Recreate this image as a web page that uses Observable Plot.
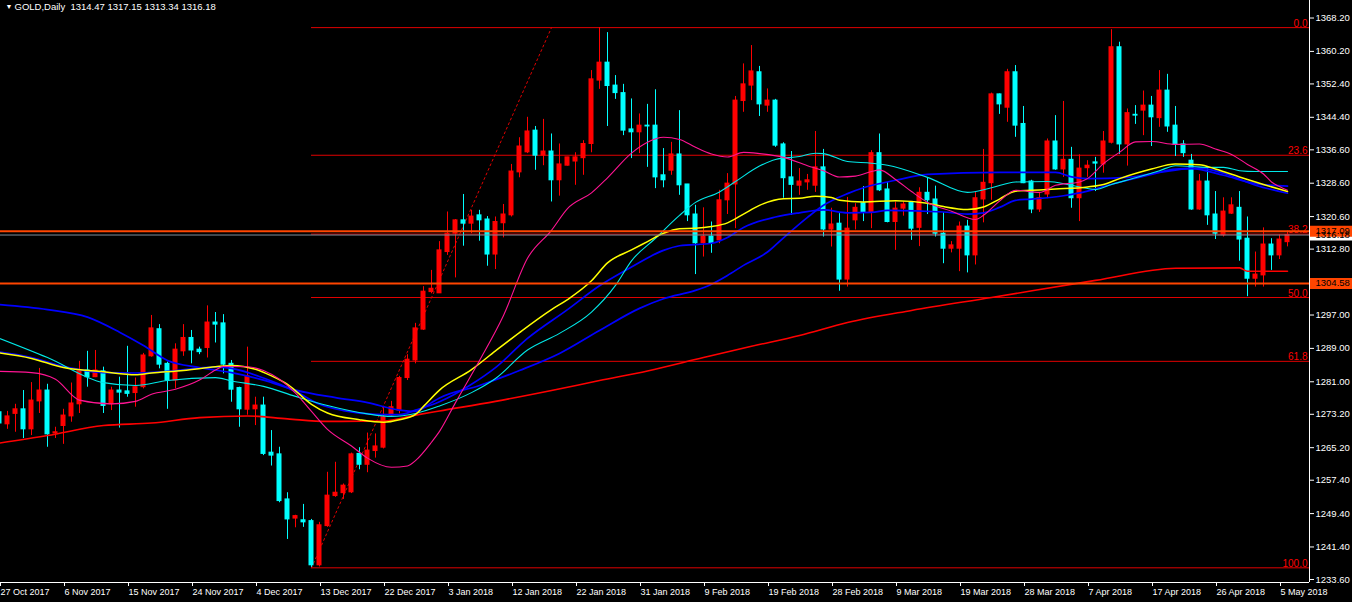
<!DOCTYPE html>
<html><head><meta charset="utf-8">
<script src="https://cdn.jsdelivr.net/npm/d3@7"></script>
<script src="https://cdn.jsdelivr.net/npm/@observablehq/plot@0.6"></script>
<style>
html,body{margin:0;padding:0;background:#000;overflow:hidden;}
svg text{white-space:pre;}
</style>
</head><body><div id="chart"></div>
<script>
// ---- Daily OHLC, bar index -1 .. 160 ----
const firstBar = -1;
const opens = [
1273.7,1270.8,1273.3,1274.4,1269.6,1276.3,1278.9,1268.6,1270.4,1272.7,
1275.6,1283.7,1282.1,1283.5,1275.6,1278.9,1278.7,1278.3,1279.7,1287.1,
1293.6,1285.3,1281.3,1288.3,1291.5,1288.7,1289.1,1295.2,1295.0,1285.3,
1279.5,1274.3,1274.4,1275.3,1264.0,1263.6,1252.8,1248.2,1247.8,1247.6,
1237.0,1246.4,1253.6,1254.3,1254.5,1263.7,1261.1,1264.4,1265.2,1272.9,
1274.1,1281.9,1286.1,1293.5,1302.5,1302.2,1312.1,1316.5,1319.7,1318.9,
1320.9,1319.9,1311.5,1319.0,1320.9,1331.2,1336.0,1341.2,1335.2,1336.2,
1329.3,1332.8,1333.8,1334.6,1338.0,1353.2,1357.5,1352.0,1350.2,1341.5,
1340.8,1342.4,1342.4,1330.5,1331.6,1335.5,1328.3,1321.1,1314.2,1315.8,
1314.9,1324.5,1328.3,1348.3,1352.0,1355.2,1347.2,1348.4,1337.9,1330.0,
1328.0,1328.8,1328.0,1332.4,1317.5,1318.9,1305.5,1319.7,1323.8,1321.5,
1335.8,1327.1,1319.3,1322.5,1323.9,1317.9,1326.3,1324.7,1316.5,1312.9,
1312.9,1318.2,1311.3,1324.7,1328.6,1349.9,1346.7,1355.2,1342.8,1329.0,
1322.3,1325.9,1338.6,1331.9,1334.2,1325.0,1332.2,1333.6,1333.1,1338.3,
1361.2,1337.9,1345.0,1346.0,1347.2,1344.2,1350.8,1342.4,1337.9,1334.0,
1322.3,1329.0,1321.1,1316.1,1321.3,1322.7,1315.3,1305.7,1306.5,1313.9,
1311.3,1314.47];
const highs = [
1274.5,1273.9,1275.6,1278.9,1280.8,1284.2,1280.4,1270.1,1274.4,1280.7,
1285.9,1288.3,1288.5,1284.5,1279.7,1282.1,1289.5,1281.9,1287.8,1296.9,
1294.7,1285.7,1290.1,1294.7,1293.3,1289.3,1299.2,1297.6,1297.1,1286.1,
1279.7,1289.3,1277.3,1277.3,1269.3,1265.3,1254.4,1249.0,1251.6,1248.0,
1247.3,1259.3,1261.7,1256.5,1263.9,1265.2,1268.7,1268.5,1274.9,1276.3,
1282.3,1287.5,1295.0,1303.8,1307.7,1314.6,1321.7,1319.9,1325.9,1322.1,
1322.1,1320.6,1320.5,1323.5,1333.1,1339.5,1344.4,1342.2,1343.9,1340.4,
1338.0,1334.8,1335.9,1338.8,1355.6,1365.9,1364.7,1354.4,1352.3,1348.8,
1345.2,1347.5,1351.0,1336.9,1338.4,1346.0,1328.3,1323.3,1322.7,1319.3,
1326.9,1330.9,1349.4,1357.2,1361.6,1356.6,1351.2,1348.7,1338.3,1336.2,
1332.1,1330.7,1341.0,1336.7,1322.6,1321.3,1325.2,1323.7,1327.8,1336.4,
1340.4,1328.8,1324.1,1324.1,1324.1,1327.5,1329.9,1327.9,1321.5,1314.6,
1319.3,1319.7,1326.4,1336.7,1350.2,1350.0,1355.9,1356.8,1347.0,1329.3,
1326.3,1339.2,1344.8,1348.2,1337.2,1335.4,1334.0,1334.8,1341.0,1365.4,
1362.4,1346.4,1347.2,1350.7,1349.4,1355.6,1354.7,1347.0,1338.8,1335.5,
1330.7,1332.4,1326.6,1325.1,1325.1,1326.6,1320.5,1312.1,1317.9,1315.3,
1316.2,1317.15];
const lows = [
1270.5,1269.6,1268.9,1267.4,1268.1,1273.4,1265.3,1267.4,1266.0,1271.3,
1273.4,1279.7,1282.0,1273.4,1274.1,1269.9,1277.3,1274.9,1279.3,1286.9,
1284.1,1274.4,1279.3,1287.1,1285.3,1287.5,1286.7,1290.3,1282.9,1276.1,
1270.1,1273.0,1270.5,1263.3,1260.8,1252.0,1243.2,1246.0,1246.1,1236.5,
1236.6,1246.1,1253.3,1252.8,1254.2,1259.9,1259.2,1262.7,1264.9,1272.5,
1273.3,1281.3,1285.3,1293.3,1302.1,1302.2,1311.3,1305.9,1313.5,1316.5,
1314.7,1308.7,1307.9,1315.5,1320.5,1329.9,1335.7,1331.7,1332.8,1324.1,
1325.5,1332.7,1328.1,1330.5,1335.9,1351.1,1342.2,1348.7,1340.0,1334.5,
1335.7,1332.4,1327.3,1327.5,1330.5,1325.7,1319.4,1306.7,1310.9,1311.8,
1314.1,1321.1,1317.7,1345.6,1348.4,1344.6,1345.6,1337.2,1325.0,1320.9,
1325.7,1326.9,1326.4,1315.7,1313.3,1302.7,1303.7,1317.4,1319.4,1317.7,
1326.6,1319.1,1312.5,1320.7,1314.9,1313.4,1321.1,1315.7,1309.3,1311.9,
1307.4,1307.1,1309.0,1319.1,1324.5,1345.1,1343.2,1339.6,1328.5,1321.3,
1321.6,1324.9,1331.7,1330.0,1322.6,1319.4,1330.0,1326.6,1331.0,1338.0,
1335.5,1332.7,1342.7,1340.0,1337.4,1342.0,1340.8,1335.0,1334.8,1322.1,
1322.1,1318.5,1315.1,1315.7,1321.1,1309.9,1301.4,1303.7,1303.7,1307.7,
1310.3,1313.34];
const closes = [
1271.0,1272.7,1274.4,1269.6,1276.5,1278.9,1268.4,1268.9,1272.9,1275.8,
1283.5,1282.1,1283.7,1275.2,1278.9,1278.4,1278.1,1279.7,1287.3,1293.8,
1285.1,1281.3,1288.7,1291.5,1288.5,1288.1,1295.2,1294.7,1285.1,1279.1,
1274.4,1282.3,1275.3,1263.7,1263.3,1252.4,1248.0,1248.8,1247.3,1237.0,
1246.6,1253.7,1254.4,1256.1,1263.6,1261.1,1264.5,1265.5,1272.5,1274.9,
1281.9,1286.3,1293.8,1302.6,1303.3,1312.5,1316.5,1319.7,1318.9,1320.6,
1319.7,1311.5,1319.3,1321.1,1331.4,1337.4,1341.0,1335.2,1336.2,1329.3,
1333.1,1334.8,1334.8,1338.0,1353.5,1357.5,1351.9,1350.2,1341.2,1340.8,
1342.4,1342.2,1330.0,1329.3,1335.5,1328.1,1320.9,1314.2,1315.8,1314.2,
1324.5,1328.5,1348.4,1352.3,1355.4,1347.5,1348.4,1337.6,1329.8,1328.2,
1329.0,1329.3,1332.4,1317.5,1318.7,1305.5,1317.7,1322.7,1321.5,1335.8,
1326.9,1319.3,1322.5,1323.5,1317.7,1326.3,1324.5,1316.5,1312.9,1313.7,
1318.2,1311.3,1325.0,1328.7,1349.9,1347.5,1355.2,1342.4,1328.6,1322.3,
1325.0,1338.6,1331.9,1334.2,1325.0,1332.1,1332.8,1333.3,1338.6,1361.2,
1337.9,1345.4,1344.8,1347.2,1344.4,1350.8,1342.2,1337.9,1335.8,1322.3,
1329.0,1320.9,1316.5,1321.8,1323.3,1315.1,1305.7,1306.7,1313.9,1311.3,
1315.1,1316.18];

// ---- Moving averages (read at sample bars) ----
const redMaBars = [-1,5,12,18,24,30,35,40,47,51,54,61,68,74,80,87,93,99,105,113,123,136,146,154,155,160];
const redMaValues = [1266.3,1268.1,1270.5,1271.1,1272.4,1272.8,1272.1,1271.5,1271.6,1273.0,1274.0,1276.3,1278.9,1281.3,1283.6,1286.8,1289.5,1292.1,1295.2,1298.1,1301.2,1305.3,1308.2,1308.3,1307.5,1307.5];
const pinkMaBars = [-1,3,6,9,13,16,18,21,24,26,27,30,32,34,36,38,40,43,45,48,50,51,53,54,56,59,62,65,68,70,73,75,78,80,82,84,86,88,90,92,94,97,100,102,104,106,108,109,111,113,115,118,121,122,124,126,129,131,134,135,137,139,141,143,146,149,151,153,155,157,158,159,160];
const pinkMaValues = [1283.5,1283.2,1281.6,1276.6,1275.7,1276.3,1278.0,1279.2,1281.4,1283.8,1284.7,1284.6,1283.7,1281.6,1278.3,1273.9,1269.6,1265.6,1262.7,1260.5,1260.8,1262.1,1266.5,1269.1,1276.0,1286.1,1296.9,1310.6,1317.3,1322.5,1326.3,1329.9,1335.8,1338.4,1339.6,1339.1,1337.2,1335.6,1334.9,1336.0,1335.7,1334.8,1332.8,1331.6,1330.1,1330.3,1331.4,1331.8,1329.5,1326.6,1324.0,1321.9,1319.9,1320.9,1324.3,1326.9,1326.4,1328.1,1328.9,1329.7,1333.3,1336.0,1338.5,1338.6,1337.9,1338.0,1336.8,1335.5,1333.1,1330.8,1328.9,1327.8,1326.9];
const cyanMaBars = [-1,5,12,16,20,26,28,32,36,40,45,48,51,54,58,61,65,69,73,76,78,81,84,86,89,91,94,96,99,101,102,105,108,110,115,120,123,126,130,133,136,138,141,144,146,150,152,154,156,160];
const cyanMaValues = [1291.4,1286.8,1280.8,1280.1,1281.3,1282.0,1281.2,1279.9,1277.5,1275.3,1273.3,1272.7,1273.4,1275.2,1278.4,1281.8,1288.6,1292.6,1297.7,1304.1,1310.0,1315.4,1320.9,1324.0,1326.5,1329.0,1332.7,1334.3,1335.0,1335.8,1335.7,1333.8,1333.4,1332.9,1330.0,1326.4,1327.5,1328.9,1329.0,1328.1,1327.1,1328.3,1329.9,1331.6,1332.8,1332.4,1332.4,1331.6,1331.4,1331.4];
const yellowMaBars = [-1,3,7,12,16,18,22,26,28,31,33,35,38,40,44,47,49,51,52,54,58,61,64,68,70,73,75,78,80,82,84,86,88,90,92,94,97,99,101,103,104,107,111,115,117,120,122,124,126,128,131,135,137,139,143,146,149,151,154,157,160];
const yellowMaValues = [1287.9,1286.6,1284.4,1283.4,1282.7,1283.1,1283.7,1284.6,1284.9,1284.0,1282.4,1280.4,1275.6,1273.5,1271.9,1271.3,1271.9,1273.2,1275.1,1279.0,1283.9,1288.4,1292.8,1298.3,1300.7,1305.2,1309.5,1312.6,1314.6,1316.6,1317.7,1317.8,1318.2,1319.1,1321.2,1323.3,1324.9,1325.0,1325.5,1325.2,1324.5,1324.1,1324.4,1323.8,1323.0,1322.3,1322.9,1324.8,1326.7,1326.9,1327.2,1327.7,1328.3,1329.7,1332.0,1333.2,1333.0,1332.0,1330.1,1328.3,1326.6];
const blueMaBars = [-1,3,7,12,16,20,26,28,32,36,39,42,46,49,51,54,58,61,65,70,74,78,82,84,88,90,92,96,99,102,105,108,110,117,120,122,124,126,128,132,135,137,140,143,146,149,152,156,160];
const blueMaValues = [1288.1,1286.8,1284.7,1283.2,1283.1,1283.5,1284.5,1284.2,1281.9,1278.7,1275.6,1274.1,1273.2,1273.1,1274.2,1276.2,1280.4,1284.4,1291.4,1298.3,1304.0,1308.5,1312.5,1313.6,1314.2,1315.6,1318.0,1320.5,1321.5,1322.2,1321.5,1321.6,1322.1,1321.7,1321.2,1321.5,1322.8,1324.5,1324.8,1325.6,1326.7,1327.8,1329.3,1330.7,1332.0,1332.2,1331.0,1328.1,1326.2];
const slowBlueMaBars = [-1,5,10,14,17,20,24,28,32,36,41,45,49,51,53,54,59,64,69,74,79,82,86,88,90,92,95,97,100,102,105,107,111,115,124,131,133,135,140,144,148,152,156,160];
const slowBlueMaValues = [1299.5,1298.3,1296.5,1292.9,1289.7,1286.1,1284.4,1283.2,1281.4,1279.0,1277.2,1276.0,1274.2,1273.9,1276.0,1277.1,1280.1,1283.7,1287.8,1293.3,1298.6,1300.9,1302.9,1304.4,1306.5,1308.9,1312.1,1315.5,1320.4,1323.3,1326.1,1327.5,1329.3,1330.7,1331.2,1331.2,1330.1,1329.7,1330.0,1331.2,1332.1,1330.5,1328.5,1327.9];

// ---- Objects ----
const fibLabels = ["0.0","23.6","38.2","50.0","61.8","100.0"];
const fibValues = [1365.9,1335.3,1316.4,1301.2,1285.9,1236.4];
const fibStartBar = 38;
const trendBars = [38, 68];
const trendValues = [1236.4, 1365.9];
const levelValues = [1317.09, 1304.58];

// ---- Axis ticks ----
const xTickBars = [-1,7,15,23,31,39,47,55,63,71,79,87,95,103,111,119,127,135,143,151,159];
const xTickLabels = ["27 Oct 2017","6 Nov 2017","15 Nov 2017","24 Nov 2017","4 Dec 2017","13 Dec 2017","22 Dec 2017","3 Jan 2018","12 Jan 2018","22 Jan 2018","31 Jan 2018","9 Feb 2018","19 Feb 2018","28 Feb 2018","9 Mar 2018","19 Mar 2018","28 Mar 2018","7 Apr 2018","17 Apr 2018","26 Apr 2018","5 May 2018"];
const yTickValues = [1368.2,1360.2,1352.4,1344.4,1336.6,1328.6,1320.6,1312.8,1297.0,1289.0,1281.0,1273.2,1265.2,1257.4,1249.4,1241.4,1233.6];

// ---- build ----
const UP = "#ff0000", DOWN = "#00ffff", LEVEL = "#ff4500";
const bars = opens.map((o, j) => ({bar: firstBar + j, open: o, high: highs[j], low: lows[j], close: closes[j]}));
const candleColor = d => d.close >= d.open ? UP : DOWN;
const zip = (b, v) => b.map((x, j) => ({bar: x, value: v[j]}));
const last = bars[bars.length - 1];
const bid = last.close;
const xDomain = [-0.875, 162.75];   // 8 px per bar
const xRightEdge = 168.2;
const xLabel = new Map(xTickBars.map((b, j) => [b, xTickLabels[j]]));
const fib = fibValues.map((v, j) => ({value: v, label: fibLabels[j]}));
const title = "GOLD,Daily  " + [last.open, last.high, last.low, last.close].map(v => v.toFixed(2)).join(" ");
const boxes = [
  {value: bid, fill: "#ffffff", label: bid.toFixed(2)},
  ...levelValues.map(v => ({value: v, fill: LEVEL, label: v.toFixed(2)}))
];

const maLine = (b, v, stroke, w) => Plot.line(zip(b, v), {x: "bar", y: "value", stroke, strokeWidth: w, curve: "monotone-x"});

const chart = Plot.plot({
  width: 1352, height: 602,
  marginTop: 0, marginRight: 43, marginBottom: 20, marginLeft: 0,
  style: {background: "#000", color: "#fff", fontFamily: "'Liberation Sans', Arial, sans-serif", fontSize: "9px"},
  x: {domain: xDomain},
  y: {domain: [1232.88, 1372.4]},
  marks: [
    // fibonacci
    Plot.ruleY(fib, {y: "value", x1: fibStartBar, x2: xDomain[1], stroke: "#e00000", strokeWidth: 1}),
    Plot.line(zip(trendBars, trendValues), {x: "bar", y: "value", stroke: "#e00000", strokeDasharray: "2,3", strokeWidth: 1}),
    // candles
    Plot.ruleX(bars, {x: "bar", y1: "low", y2: "high", stroke: candleColor, strokeWidth: 1}),
    Plot.rect(bars, {x1: d => d.bar - 0.3125, x2: d => d.bar + 0.3125, y1: "open", y2: "close", fill: candleColor, insetTop: -0.5, insetBottom: -0.5}),
    // moving averages
    maLine(redMaBars, redMaValues, "#ff0000", 1.6),
    maLine(slowBlueMaBars, slowBlueMaValues, "#0000ff", 1.7),
    maLine(blueMaBars, blueMaValues, "#0000ff", 1.7),
    maLine(cyanMaBars, cyanMaValues, "#00e8e8", 1.1),
    maLine(yellowMaBars, yellowMaValues, "#ffff00", 1.5),
    maLine(pinkMaBars, pinkMaValues, "#ff1493", 1.1),
    // fib labels
    Plot.text(fib, {x: xDomain[1], y: "value", text: "label", textAnchor: "end", lineAnchor: "bottom", dx: -2, dy: -1, fill: "#ff0000", fontSize: 10}),
    // bid and horizontal levels
    Plot.ruleY([bid], {stroke: "#7f8c99", strokeWidth: 1}),
    Plot.ruleY(levelValues, {stroke: LEVEL, strokeWidth: 2}),
    // axis lines
    Plot.ruleX([xDomain[1]], {stroke: "#fff"}),
    Plot.ruleY([1232.88], {stroke: "#fff"}),
    Plot.axisY(yTickValues, {anchor: "right", tickSize: 4, tickPadding: 2, tickFormat: d => d.toFixed(2), label: null, fontSize: 9.5}),
    Plot.axisX(xTickBars, {anchor: "bottom", tickSize: 4, tickPadding: 2, tickFormat: d => xLabel.get(d), textAnchor: "start", dx: 1, label: null, fontSize: 9}),
    // price boxes on the axis
    Plot.ruleY(boxes, {y: "value", x1: xDomain[1] + 0.125, x2: xRightEdge, stroke: "fill", strokeWidth: 11}),
    Plot.text(boxes, {x: xDomain[1], y: "value", text: "label", textAnchor: "start", dx: 6, fill: "#000", fontSize: 9.5}),
    // header
    Plot.text(["\u25BC"], {frameAnchor: "top-left", dx: 5, dy: 3.5, lineAnchor: "top", fontSize: 7, fill: "#fff"}),
    Plot.text([title], {frameAnchor: "top-left", dx: 14, dy: 3, lineAnchor: "top", textAnchor: "start", fontSize: 9.5, fill: "#fff"})
  ]
});
document.getElementById("chart").append(chart);
</script>
</body></html>
